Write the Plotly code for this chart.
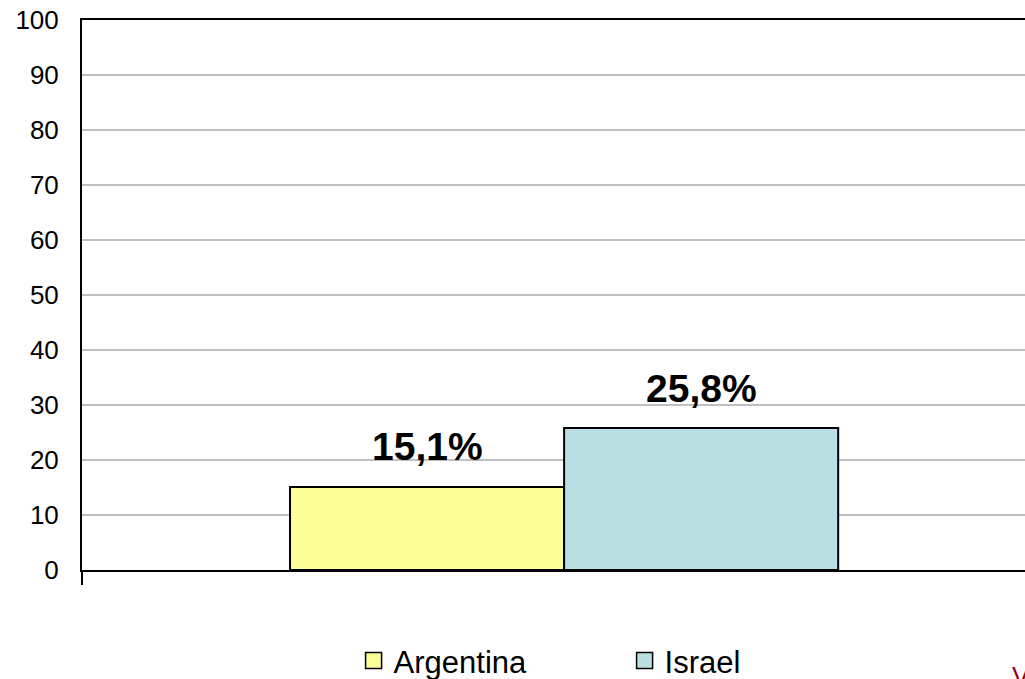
import plotly.graph_objects as go

# ---- data ----
countries = ["Argentina", "Israel"]
values = [15.1, 25.8]
value_labels = ["15,1%", "25,8%"]
colors = ["#FFFF99", "#BBE0E3"]
group = [" "]
y_ticks = [0, 10, 20, 30, 40, 50, 60, 70, 80, 90, 100]

BARGAP = 0.4315
FONT = "Liberation Sans, Arial, sans-serif"

fig = go.Figure()
for name, v, c in zip(countries, values, colors):
    fig.add_trace(go.Bar(
        x=group, y=[v], name=name, showlegend=False,
        marker=dict(color=c, line=dict(color="black", width=2)),
    ))
    # legend entry with a larger square swatch
    fig.add_trace(go.Scatter(
        x=[None], y=[None], name=name, mode="markers",
        marker=dict(symbol="square", size=16, color=c, line=dict(color="black", width=1.5)),
    ))

# data labels above bars
w = (1 - BARGAP) / len(countries)
for i, (v, t) in enumerate(zip(values, value_labels)):
    xc = -(1 - BARGAP) / 2 + w * (i + 0.5)
    fig.add_annotation(x=xc, y=v, xref="x", yref="y", text="<b>%s</b>" % t,
                       showarrow=False, yanchor="middle", yshift=40,
                       font=dict(family=FONT, size=39, color="black"))

fig.add_annotation(x=1.0, y=0, xref="paper", yref="paper", xanchor="left",
                   yanchor="top", yshift=-89, xshift=-15, text="V",
                   showarrow=False, font=dict(family=FONT, size=26, color="#99002B"))

fig.update_layout(
    width=1025, height=679,
    margin=dict(l=82, r=0, t=20, b=109, autoexpand=False),
    paper_bgcolor="white", plot_bgcolor="white",
    barmode="group", bargap=BARGAP, bargroupgap=0,
    font=dict(family=FONT, color="black"),
    showlegend=True,
    legend=dict(orientation="h", x=0.288, xanchor="left", y=-0.116, yanchor="top",
                font=dict(family=FONT, size=31, color="black"),
                entrywidth=226, entrywidthmode="pixels",
                bgcolor="rgba(0,0,0,0)"),
    xaxis=dict(type="category", range=[-0.5, 0.478], showline=True, linecolor="black",
               linewidth=2, mirror=True, showgrid=False, ticks="outside",
               tickson="boundaries", ticklen=13, tickwidth=2, tickcolor="black",
               showticklabels=False, fixedrange=True),
    yaxis=dict(range=[0, 100], tickvals=y_ticks, showline=True, linecolor="black",
               linewidth=2, showgrid=True, gridcolor="#C0C0C0", gridwidth=2,
               zeroline=False, ticks="outside", ticklen=16, tickcolor="rgba(0,0,0,0)",
               tickfont=dict(family=FONT, size=26, color="black")),
)

fig.write_html("out.html", config={"displayModeBar": False},
               post_script="document.body.style.margin='0';document.body.style.overflow='hidden';")
